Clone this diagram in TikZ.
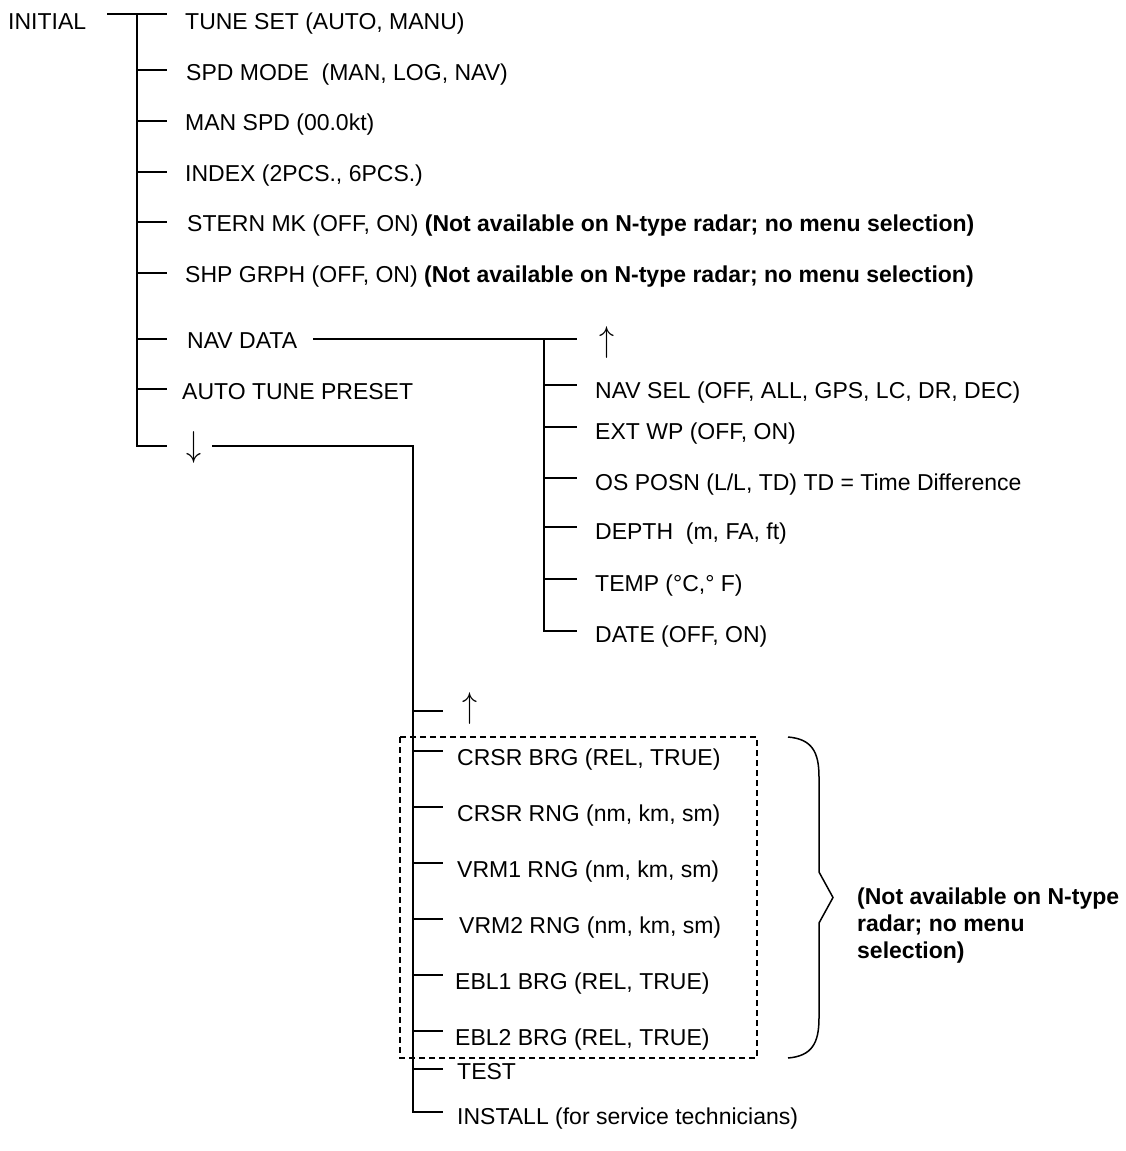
\documentclass[tikz,border=0pt]{standalone}
\usepackage{fontspec}
\setmainfont{Liberation Sans}
\begin{document}
\begin{tikzpicture}[x=1pt,y=-1pt,
  txt/.style={inner sep=0pt, anchor=base west, font=\fontsize{23}{27}\selectfont},
  arr/.style={inner sep=0pt, anchor=center},
  ln/.style={line width=1.5pt},
  dbox/.style={line width=1.3pt, dash pattern=on 6pt off 4pt}]
\useasboundingbox (0,0) rectangle (1125,1151);

% ---- main column ----
\node[txt] (init)  at (8,29.5)  {INITIAL};
\node[txt] (tune)  at (185,29.5) {TUNE SET (AUTO, MANU)};
\node[txt] (spd)   at (186,80)  {SPD MODE\ \ (MAN, LOG, NAV)};
\node[txt] (man)   at (185,130) {MAN SPD (00.0kt)};
\node[txt] (index) at (185,181) {INDEX (2PCS., 6PCS.)};
\node[txt] (stern) at (187,231) {STERN MK (OFF, ON) \textbf{(Not available on N-type radar; no menu selection)}};
\node[txt] (shp)   at (185,282) {SHP GRPH (OFF, ON) \textbf{(Not available on N-type radar; no menu selection)}};
\node[txt] (nav)   at (187,348) {NAV DATA};
\node[txt] (auto)  at (182,399) {AUTO TUNE PRESET};
\node[arr] (down)  at (194,447) {\resizebox{15pt}{25pt}{$\downarrow$}};

\coordinate (ttop) at (137,14);
\coordinate (tbot) at (137,446);
\draw[ln] (107,14) -- (167,14);
\draw[ln] (ttop) -- (tbot) -- (167,446);
\foreach \y in {70,121,172,222,273,339,389}
  \draw[ln] (137,\y) -- (167,\y);

% ---- NAV DATA sub menu ----
\coordinate (ntop) at (544,339);
\coordinate (nbot) at (544,631);
\draw[ln] (313,339) -- (577,339);
\draw[ln] (ntop) -- (nbot) -- (577,631);
\foreach \y in {385,427,478,527,579}
  \draw[ln] (544,\y) -- (577,\y);
\node[arr] (nup) at (607,342) {\resizebox{15pt}{25pt}{$\uparrow$}};
\node[txt] (navsel) at (595,398) {NAV SEL (OFF, ALL, GPS, LC, DR, DEC)};
\node[txt] (extwp)  at (595,439) {EXT WP (OFF, ON)};
\node[txt] (ospos)  at (595,490) {OS POSN (L/L, TD) TD = Time Difference};
\node[txt] (depth)  at (595,539) {DEPTH\ \ (m, FA, ft)};
\node[txt] (temp)   at (595,591) {TEMP (°C,° F)};
\node[txt] (date)   at (595,642) {DATE (OFF, ON)};

% ---- lower sub menu ----
\coordinate (btop) at (413,446);
\coordinate (bbot) at (413,1112);
\draw[ln] (212,446) -- (btop) -- (bbot) -- (443,1112);
\foreach \y in {711,751,807,863,919,975,1031,1069}
  \draw[ln] (413,\y) -- (443,\y);
\node[arr] (bup) at (470,708) {\resizebox{15pt}{25pt}{$\uparrow$}};
\node[txt] (cbrg) at (457,765) {CRSR BRG (REL, TRUE)};
\node[txt] (crng) at (457,821) {CRSR RNG (nm, km, sm)};
\node[txt] (v1)   at (457,877) {VRM1 RNG (nm, km, sm)};
\node[txt] (v2)   at (459,933) {VRM2 RNG (nm, km, sm)};
\node[txt] (e1)   at (455,989) {EBL1 BRG (REL, TRUE)};
\node[txt] (e2)   at (455,1045) {EBL2 BRG (REL, TRUE)};
\node[txt] (test) at (457,1079) {TEST};
\node[txt] (inst) at (457,1124) {INSTALL (for service technicians)};

\draw[dbox] (400,737) rectangle (757,1058);

% ---- brace ----
\draw[ln] (788,737) .. controls (812,739) and (819,752) .. (819,777)
  -- (819,872) -- (833,897.5) -- (819,923) -- (819,1018)
  .. controls (819,1043) and (812,1056) .. (788,1058);
\node[inner sep=0pt, anchor=north west, align=left,
  font=\bfseries\fontsize{23}{27}\selectfont] (note) at (857,888)
  {(Not available on N-type\\radar; no menu\\selection)};
\end{tikzpicture}
\end{document}
